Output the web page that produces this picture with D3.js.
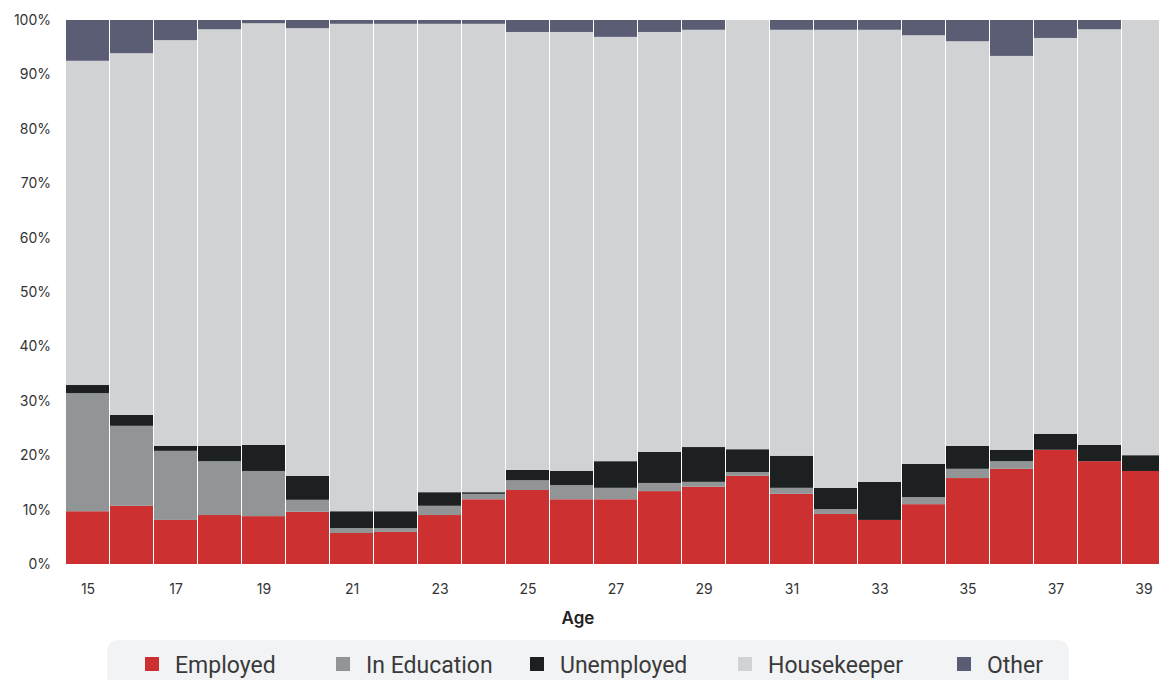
<!DOCTYPE html>
<html>
<head>
<meta charset="utf-8">
<script src="https://cdn.jsdelivr.net/npm/d3@7"></script>
<style>
  html, body { margin: 0; padding: 0; background: #fff; overflow: hidden; }
  svg { display: block; }
</style>
</head>
<body>
<svg id="chart" width="1159" height="680"></svg>
<script>
const ages = [15,16,17,18,19,20,21,22,23,24,25,26,27,28,29,30,31,32,33,34,35,36,37,38,39];
const employed    = [9.7,10.7,8.1,9.0,8.8,9.6,5.7,5.9,9.0,11.9,13.6,11.9,11.9,13.4,14.2,16.2,12.9,9.2,8.1,11.0,15.8,17.5,21.0,18.9,17.1];
const inEducation = [21.7,14.7,12.7,9.9,8.3,2.2,0.9,0.7,1.7,1.0,1.8,2.6,2.1,1.5,0.9,0.7,1.1,0.9,0.0,1.3,1.7,1.4,0.0,0.0,0.0];
const unemployed  = [1.5,2.0,0.9,2.8,4.8,4.4,3.1,3.1,2.5,0.3,1.9,2.6,4.9,5.7,6.4,4.2,5.9,3.9,7.0,6.1,4.2,2.1,2.9,3.0,2.9];
const housekeeper = [59.6,66.5,74.6,76.6,77.5,82.3,89.6,89.6,86.1,86.1,80.5,80.7,78.0,77.2,76.7,78.9,78.3,84.2,83.1,78.8,74.4,72.4,72.8,76.4,80.0];
const other       = [7.5,6.1,3.7,1.7,0.6,1.5,0.7,0.7,0.7,0.7,2.2,2.2,3.1,2.2,1.8,0.0,1.8,1.8,1.8,2.8,3.9,6.6,3.3,1.7,0.0];
const seriesNames = ["Employed","In Education","Unemployed","Housekeeper","Other"];
const seriesColors = ["#cc3030","#919595","#1c2020","#d1d2d4","#5a5d74"];
const yTicks = [0,0.1,0.2,0.3,0.4,0.5,0.6,0.7,0.8,0.9,1.0];
const xTickAges = [15,17,19,21,23,25,27,29,31,33,35,37,39];
const axisTitle = "Age";

const seriesValues = [employed, inEducation, unemployed, housekeeper, other];
const rows = ages.map((a, i) => {
  const r = { age: a };
  seriesNames.forEach((n, k) => r[n] = seriesValues[k][i]);
  return r;
});

const svg = d3.select("#chart");
const plotLeft = 66, plotRight = 1166, plotTop = 20, plotBottom = 564;

const x = d3.scaleBand().domain(ages).range([plotLeft, plotRight]).padding(0);
const y = d3.scaleLinear().domain([0, 1]).range([plotBottom, plotTop]);
const color = d3.scaleOrdinal().domain(seriesNames).range(seriesColors);

const stack = d3.stack().keys(seriesNames).offset(d3.stackOffsetExpand);
const stacked = stack(rows);

svg.append("g").selectAll("g")
  .data(stacked).join("g")
  .attr("fill", d => color(d.key))
  .selectAll("rect")
  .data(d => d).join("rect")
  .attr("x", d => x(d.data.age))
  .attr("width", x.bandwidth() - 1)
  .attr("y", d => y(d[1]))
  .attr("height", d => Math.max(0, y(d[0]) - y(d[1])));

// Y axis
const yAxis = d3.axisLeft(y).tickValues(yTicks).tickFormat(d3.format(".0%")).tickSize(0).tickPadding(15);
const yg = svg.append("g").attr("transform", `translate(${plotLeft},0)`).call(yAxis);
yg.select(".domain").remove();
yg.selectAll("text").attr("font-family", "Inter, 'Open Sans', sans-serif").attr("font-size", 14).attr("fill", "#333");

// X axis
const xAxis = d3.axisBottom(x).tickValues(xTickAges).tickSize(0).tickPadding(20);
const xg = svg.append("g").attr("transform", `translate(0,${plotBottom})`).call(xAxis);
xg.select(".domain").remove();
xg.selectAll("text").attr("font-family", "Inter, 'Open Sans', sans-serif").attr("font-size", 14).attr("fill", "#333");

svg.append("text")
  .attr("x", 578).attr("y", 624)
  .attr("text-anchor", "middle")
  .attr("font-family", "Inter, 'Open Sans', sans-serif")
  .attr("font-weight", 600)
  .attr("font-size", 17)
  .attr("fill", "#222")
  .text(axisTitle);

// Legend
svg.append("rect")
  .attr("x", 107).attr("y", 640).attr("width", 962).attr("height", 60)
  .attr("rx", 10).attr("fill", "#f2f3f5");

const legendX = [145, 336, 530, 738, 957];
const lg = svg.append("g").selectAll("g").data(seriesNames).join("g")
  .attr("transform", (d, i) => `translate(${legendX[i]},657)`);
lg.append("rect").attr("width", 14).attr("height", 14).attr("fill", d => color(d));
lg.append("text")
  .attr("x", 30).attr("y", 16)
  .attr("font-family", "Roboto, sans-serif")
  .attr("font-size", 23)
  .attr("fill", "#3a3a3a")
  .text(d => d);
</script>
</body>
</html>
